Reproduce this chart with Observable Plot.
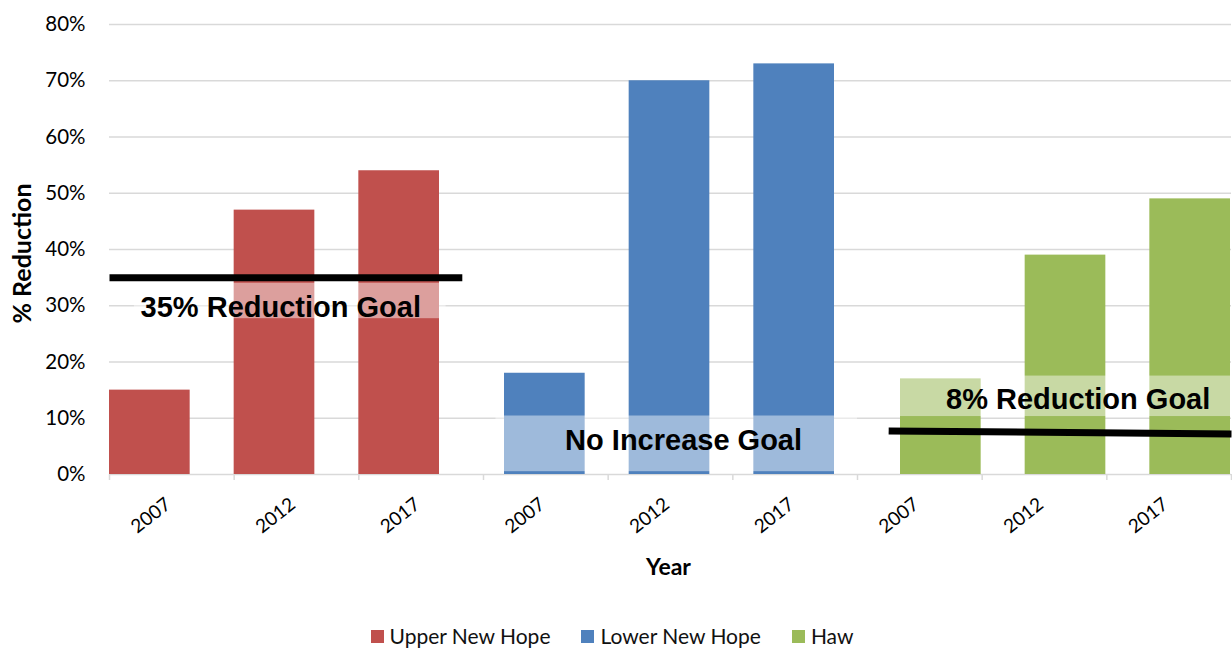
<!DOCTYPE html>
<html>
<head>
<meta charset="utf-8">
<script src="https://cdn.jsdelivr.net/npm/d3@7"></script>
<script src="https://cdn.jsdelivr.net/npm/@observablehq/plot@0.6"></script>
<style>
  html, body { margin: 0; padding: 0; background: #fff; }
  #chart { width: 1232px; }
  .legend { display: flex; justify-content: center; gap: 31px; font-family: Lato, sans-serif; font-size: 21px; color: #111; margin-top: 14px; margin-left: -8px; line-height: 24px; }
  .legend span.item { display: inline-flex; align-items: center; }
  .legend span.sw { display: inline-block; width: 13px; height: 13px; margin-right: 6px; }
</style>
</head>
<body>
<div id="chart"></div>
<script>
// ---- data ----
const years = ["2007", "2012", "2017"];
const seriesNames = ["Upper New Hope", "Lower New Hope", "Haw"];
const upperNewHope = [15, 47, 54];
const lowerNewHope = [18, 70, 73];
const haw = [17, 39, 49];
const seriesColors = ["#C0504D", "#4F81BD", "#9BBB59"];
const yTicks = [0, 10, 20, 30, 40, 50, 60, 70, 80];

// goal annotations (x in category-slot units, y in %)
const goalLabels = ["35% Reduction Goal", "No Increase Goal", "8% Reduction Goal"];
const goalLabelX = [1.374, 4.605, 7.77];
const goalLabelY = [29.7, 6.0, 13.3];
const goalBoxX = [[0.2, 2.7], [3.1, 6.0], [6.3, 9.0]];
const goalBoxY = [[27.7, 34.0], [0.5, 10.4], [10.3, 17.5]];
const goalLineStart = [[0, 35], [6.25, 7.75]];
const goalLineEnd = [[2.83, 35], [9.0, 7.2]];

// ---- build tables ----
const allValues = [upperNewHope, lowerNewHope, haw];
const rows = [];
allValues.forEach((vals, s) => vals.forEach((v, j) => rows.push({series: seriesNames[s], s, year: years[j], idx: s * 3 + j, value: v})));
const slots = rows.map(r => ({idx: r.idx, year: r.year}));
const boxes = goalLabels.map((t, i) => ({x1: goalBoxX[i][0], x2: goalBoxX[i][1], y1: goalBoxY[i][0], y2: goalBoxY[i][1]}));
const labels = goalLabels.map((t, i) => ({text: t, x: goalLabelX[i], y: goalLabelY[i]}));
const lines = goalLineStart.map((p, i) => ({x1: p[0], y1: p[1], x2: goalLineEnd[i][0], y2: goalLineEnd[i][1]}));
const insets = [[0, 44], [21, 23], [43, 1]];

const barMarks = seriesNames.map((name, s) =>
  Plot.rect(rows.filter(r => r.s === s), {
    x1: d => d.idx, x2: d => d.idx + 1, y1: 0, y2: "value",
    fill: seriesColors[s], insetLeft: insets[s][0], insetRight: insets[s][1]
  })
);

const chart = Plot.plot({
  width: 1232,
  height: 610,
  marginLeft: 109,
  marginRight: 1,
  marginTop: 24,
  marginBottom: 136,
  style: {fontFamily: "Lato, sans-serif", background: "#fff", color: "#000", overflow: "visible"},
  x: {type: "linear", domain: [0, 9], axis: null},
  y: {domain: [0, 80], axis: null},
  marks: [
    Plot.gridY(yTicks, {stroke: "#d9d9d9", strokeOpacity: 1, strokeWidth: 1.5}),
    Plot.axisX(d3.range(10), {tickFormat: () => "", tickSize: 6, stroke: "#d9d9d9", strokeWidth: 1.5, label: null}),
    Plot.axisY(yTicks, {tickSize: 0, tickPadding: 24, tickFormat: d => `${d}%`, fontSize: 20.5, label: null}),
    ...barMarks,
    Plot.rect(boxes, {x1: "x1", x2: "x2", y1: "y1", y2: "y2", fill: "white", fillOpacity: 0.45}),
    Plot.link(lines, {x1: "x1", y1: "y1", x2: "x2", y2: "y2", stroke: "black", strokeWidth: 7}),
    Plot.text(labels, {x: "x", y: "y", text: "text", fontFamily: "Liberation Sans, Arial, sans-serif", fontWeight: "bold", fontSize: 29, fill: "black"}),
    Plot.text(slots, {x: d => d.idx + 0.5, y: 0, text: "year", rotate: -38, textAnchor: "end", dx: -3.5, dy: 27.5, fontSize: 19, fill: "black"}),
    Plot.text(["% Reduction"], {frameAnchor: "left", textAnchor: "middle", lineAnchor: "middle", rotate: -90, dx: -87, dy: 4, fontWeight: "bold", fontSize: 25, fill: "black"}),
    Plot.text(["Year"], {frameAnchor: "bottom", lineAnchor: "middle", dy: 93, dx: -2, fontWeight: "bold", fontSize: 23, fill: "black"})
  ]
});
document.getElementById("chart").appendChild(chart);

const legend = document.createElement("div");
legend.className = "legend";
seriesNames.forEach((n, i) => {
  const item = document.createElement("span");
  item.className = "item";
  const sw = document.createElement("span");
  sw.className = "sw";
  sw.style.background = seriesColors[i];
  item.appendChild(sw);
  item.appendChild(document.createTextNode(n));
  legend.appendChild(item);
});
document.getElementById("chart").appendChild(legend);
</script>
</body>
</html>
